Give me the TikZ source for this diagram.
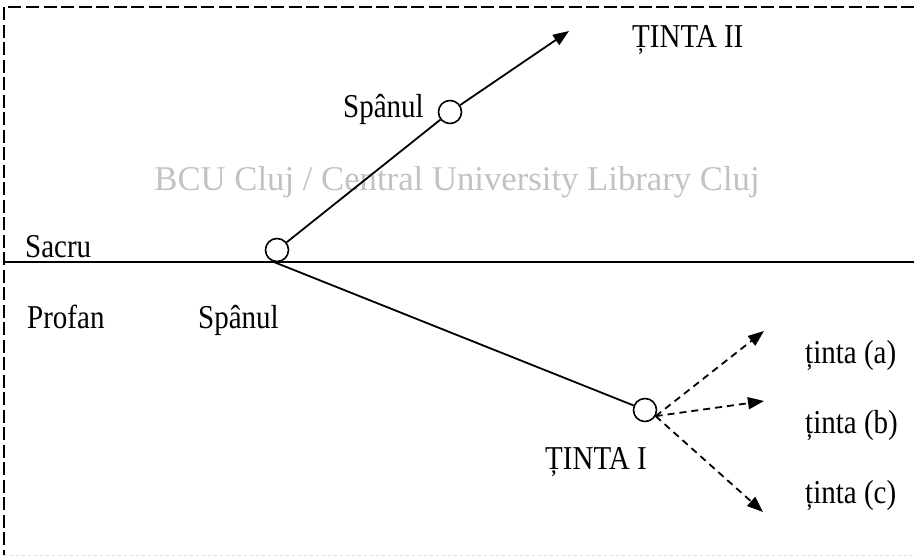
\documentclass[tikz,border=0pt]{standalone}
\usepackage{fontspec}
\setmainfont{Liberation Serif}
\usetikzlibrary{arrows.meta}
\newcommand{\tallt}[1]{\scalebox{1}[1.15]{#1}}
\begin{document}
\begin{tikzpicture}[x=1pt,y=-1pt,
  lbl/.style={font=\fontsize{29}{32}\selectfont, inner sep=0pt, anchor=base west},
  wmark/.style={font=\fontsize{34.7}{38}\selectfont, inner sep=0pt, anchor=base, text=black!24},
  ring/.style={circle, draw, line width=1.6pt, minimum size=23pt, inner sep=0pt},
  conn/.style={line width=1.8pt},
  arr/.style={conn, -{Triangle[length=16pt,width=12pt]}},
  darr/.style={arr, dash pattern=on 7pt off 5pt},
  framestyle/.style={line width=1.7pt, dash pattern=on 13pt off 4.5pt}]
\useasboundingbox (0,0) rectangle (914,558);
% frame
\coordinate (fTL) at (4,7);
\coordinate (fTR) at (914,7);
\coordinate (fBL) at (4,555);
\coordinate (fBR) at (914,555);
\draw[framestyle] (fTR) -- (fTL) -- (fBL);
\draw[line width=1pt, black!12, dash pattern=on 3pt off 3pt] (fBL) -- (fBR);
% watermark
\node[wmark] (wm) at (457,190) {BCU Cluj / Central University Library Cluj};
% dividing line
\coordinate (L) at (5,262);
\coordinate (R) at (914,262);
\draw[conn] (L) -- (R);
% rings
\node[ring] (c1) at (277,250) {};
\node[ring] (c2) at (450,112) {};
\node[ring] (c3) at (645,410) {};
% targets
\coordinate (t2) at (569,31);
\coordinate (ta) at (764,331);
\coordinate (tb) at (764,401);
\coordinate (tc) at (763,512);
% connectors
\draw[conn] (c1) -- (c2);
\draw[arr] (c2) -- (t2);
\draw[conn] (c1.250) -- (c3);
\coordinate (s3) at (c3.-30);
\draw[darr] (s3) -- (ta);
\draw[darr] (s3) -- (tb);
\draw[darr] (s3) -- (tc);
% labels
\node[lbl] (l1) at (632,47) {\tallt{ȚINTA II}};
\node[lbl] (l2) at (343,117) {\tallt{Spânul}};
\node[lbl] (l3) at (25,257) {\tallt{Sacru}};
\node[lbl] (l4) at (27,328) {\tallt{Profan}};
\node[lbl] (l5) at (198,328) {\tallt{Spânul}};
\node[lbl] (l6) at (545,469) {\tallt{ȚINTA I}};
\node[lbl] (l7) at (805,363) {\tallt{ținta (a)}};
\node[lbl] (l8) at (805,433) {\tallt{ținta (b)}};
\node[lbl] (l9) at (805,503) {\tallt{ținta (c)}};
\end{tikzpicture}
\end{document}
